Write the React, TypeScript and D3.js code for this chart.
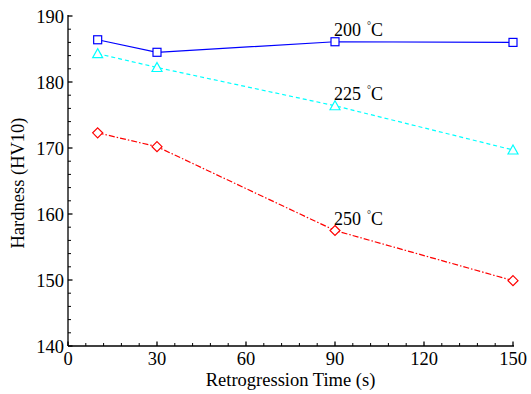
import React from 'react';
import * as d3 from 'd3';

const times = [10, 30, 90, 150];
const hv200 = [186.4, 184.5, 186.1, 186.0];
const hv225 = [184.3, 182.2, 176.4, 169.7];
const hv250 = [172.3, 170.2, 157.5, 149.9];
const xTicks = [0, 30, 60, 90, 120, 150];
const yTicks = [140, 150, 160, 170, 180, 190];

const W = 531;
const H = 394;
const m = { left: 68, right: 18, top: 16, bottom: 48 };

const series = [
  { name: '200', values: hv200, color: '#0000ff', dash: '', marker: 'square', labelAt: 186.1 },
  { name: '225', values: hv225, color: '#00ffff', dash: '4,3', marker: 'triangle', labelAt: 176.4 },
  { name: '250', values: hv250, color: '#ff0000', dash: '6,2,1.5,2', marker: 'diamond', labelAt: 157.5 },
];

const App = () => {
  if (typeof document !== 'undefined') document.body.style.margin = '0';
  const x = d3.scaleLinear().domain([0, 150]).range([m.left, W - m.right]);
  const y = d3.scaleLinear().domain([140, 190]).range([H - m.bottom, m.top]);
  const line = d3.line<number>().x((_, i) => x(times[i])).y(d => y(d));
  const xMinor = d3.range(0, 151, 6).filter(v => v % 30 !== 0);
  const yMinor = d3.range(140, 191, 2).filter(v => v % 10 !== 0);
  const font = '"Liberation Serif", "Times New Roman", serif';
  const x0 = x(0);
  const y0 = y(140);

  const marker = (kind: string, cx: number, cy: number, color: string, key: number) => {
    if (kind === 'square')
      return <rect key={key} x={cx - 4} y={cy - 4} width={8} height={8} fill="white" stroke={color} strokeWidth={1.2} />;
    if (kind === 'triangle')
      return <path key={key} d={`M${cx},${cy - 5}L${cx + 5},${cy + 4}L${cx - 5},${cy + 4}Z`} fill="white" stroke={color} strokeWidth={1.2} />;
    return <path key={key} d={`M${cx},${cy - 5}L${cx + 5},${cy}L${cx},${cy + 5}L${cx - 5},${cy}Z`} fill="white" stroke={color} strokeWidth={1.2} />;
  };

  return (
    <svg width={W} height={H} style={{ display: 'block', background: 'white' }} fontFamily={font}>
      {/* axes */}
      <line x1={x0} x2={x0} y1={y(190) - 1} y2={y0} stroke="black" strokeWidth={1.3} />
      <line x1={x0} x2={x(150) + 1} y1={y0} y2={y0} stroke="black" strokeWidth={1.3} />
      {yTicks.map(v => (
        <g key={'y' + v}>
          <line x1={x0} x2={x0 + 4.5} y1={y(v)} y2={y(v)} stroke="black" strokeWidth={1.3} />
          <text x={x0 - 4} y={y(v)} dy="0.36em" textAnchor="end" fontSize={18.5}>{v}</text>
        </g>
      ))}
      {yMinor.map(v => (
        <line key={'ym' + v} x1={x0} x2={x0 + 3} y1={y(v)} y2={y(v)} stroke="black" strokeWidth={1} />
      ))}
      {xTicks.map(v => (
        <g key={'x' + v}>
          <line x1={x(v)} x2={x(v)} y1={y0} y2={y0 - 4.5} stroke="black" strokeWidth={1.3} />
          <text x={x(v)} y={y0 + 19} textAnchor="middle" fontSize={18.5}>{v}</text>
        </g>
      ))}
      {xMinor.map(v => (
        <line key={'xm' + v} x1={x(v)} x2={x(v)} y1={y0} y2={y0 - 3} stroke="black" strokeWidth={1} />
      ))}
      <text x={(x0 + x(150)) / 2} y={386} textAnchor="middle" fontSize={18.5}>Retrogression Time (s)</text>
      <text transform={`translate(24,${(y(190) + y0) / 2 + 2}) rotate(-90)`} textAnchor="middle" fontSize={18.5}>Hardness (HV10)</text>

      {series.map(s => (
        <g key={s.name}>
          <path d={line(s.values) || ''} fill="none" stroke={s.color} strokeWidth={1.2} strokeDasharray={s.dash} />
          {s.values.map((v, i) => marker(s.marker, x(times[i]), y(v), s.color, i))}
          <text x={x(90) - 1} y={y(s.labelAt) - 6} fontSize={18}>
            {s.name}
            <tspan dx={6} dy={-7} fontSize={10}>°</tspan>
            <tspan dx={0} dy={7}>C</tspan>
          </text>
        </g>
      ))}
    </svg>
  );
};

export default App;
